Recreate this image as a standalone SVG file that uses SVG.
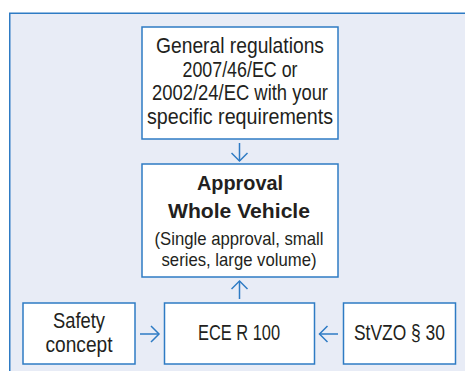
<svg xmlns="http://www.w3.org/2000/svg" width="465" height="371" viewBox="0 0 465 371">
<defs>
<style>
.box{fill:#ffffff;stroke:#2e7bc4;stroke-width:1.5}
.t{font-family:"Liberation Sans","Arial",sans-serif;fill:#231f20;text-anchor:middle}
.n{font-size:21.5px}
.s{font-size:18.5px}
.b{font-size:20.5px;font-weight:bold}
.c{fill:none;stroke:#2e7bc4;stroke-width:1.5}
</style>
<marker id="ah" markerWidth="12" markerHeight="18" refX="9" refY="9" orient="auto" markerUnits="userSpaceOnUse">
<path d="M1,1 L9,9 L1,17" fill="none" stroke="#2e7bc4" stroke-width="1.5"/>
</marker>
</defs>
<rect x="9.75" y="13.25" width="470" height="370" fill="#e8ecf6" stroke="#2e7bc4" stroke-width="1.5"/>
<g id="general">
<rect class="box" x="142" y="27" width="196" height="112"/>
<text class="t n" x="240" y="52.5" textLength="168" lengthAdjust="spacingAndGlyphs">General regulations</text>
<text class="t n" x="240" y="76.5" textLength="115" lengthAdjust="spacingAndGlyphs">2007/46/EC or</text>
<text class="t n" x="240" y="100" textLength="176" lengthAdjust="spacingAndGlyphs">2002/24/EC with your</text>
<text class="t n" x="240" y="123.5" textLength="186" lengthAdjust="spacingAndGlyphs">specific requirements</text>
</g>
<g id="approval">
<rect class="box" x="142" y="164" width="196" height="113"/>
<text class="t b" x="240" y="190" textLength="86" lengthAdjust="spacingAndGlyphs">Approval</text>
<text class="t b" x="239" y="218" textLength="142" lengthAdjust="spacingAndGlyphs">Whole Vehicle</text>
<text class="t s" x="239" y="245" textLength="169" lengthAdjust="spacingAndGlyphs">(Single approval, small</text>
<text class="t s" x="239" y="266" textLength="155" lengthAdjust="spacingAndGlyphs">series, large volume)</text>
</g>
<g id="safety">
<rect class="box" x="23" y="303" width="112" height="61"/>
<text class="t n" x="79" y="327.5" textLength="52" lengthAdjust="spacingAndGlyphs">Safety</text>
<text class="t n" x="79" y="351.5" textLength="67" lengthAdjust="spacingAndGlyphs">concept</text>
</g>
<g id="ece">
<rect class="box" x="164.5" y="303" width="150" height="61"/>
<text class="t n" x="239" y="340" textLength="82" lengthAdjust="spacingAndGlyphs">ECE R 100</text>
</g>
<g id="stvzo">
<rect class="box" x="343.5" y="303" width="112" height="61"/>
<text class="t n" x="399.5" y="340" textLength="91" lengthAdjust="spacingAndGlyphs">StVZO § 30</text>
</g>
<g id="connectors">
<line class="c" x1="239.5" y1="143" x2="239.5" y2="161" marker-end="url(#ah)"/>
<line class="c" x1="239.5" y1="299" x2="239.5" y2="281" marker-end="url(#ah)"/>
<line class="c" x1="140" y1="334" x2="159" y2="334" marker-end="url(#ah)"/>
<line class="c" x1="338" y1="334" x2="319.5" y2="334" marker-end="url(#ah)"/>
</g>
</svg>
